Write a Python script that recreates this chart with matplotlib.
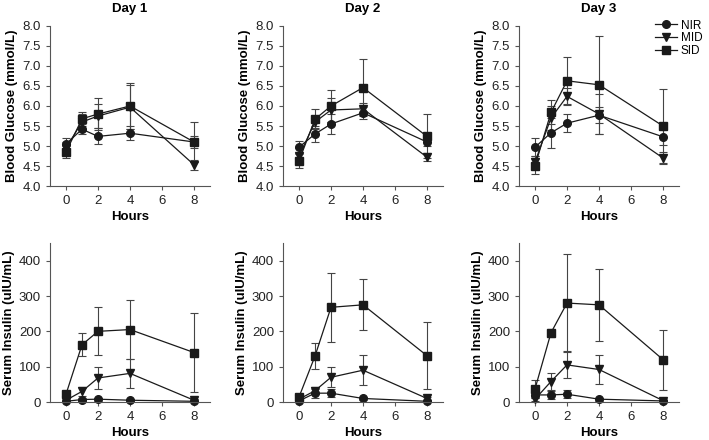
import numpy as np
import matplotlib.pyplot as plt
from matplotlib.lines import Line2D

plt.rcParams['font.family'] = ['Liberation Sans', 'DejaVu Sans']

hours = [0, 1, 2, 4, 8]
groups = ['NIR', 'MID', 'SID']
markers = ['o', 'v', 's']
days = ['Day 1', 'Day 2', 'Day 3']

# blood glucose (mmol/L), mean and error, per day per group
glu_d1 = {'NIR': [5.05, 5.42, 5.24, 5.32, 5.10], 'MID': [4.95, 5.60, 5.75, 5.97, 4.53], 'SID': [4.85, 5.68, 5.80, 6.00, 5.10]}
glu_d1_err = {'NIR': [0.15, 0.12, 0.20, 0.17, 0.15], 'MID': [0.15, 0.20, 0.30, 0.55, 0.12], 'SID': [0.15, 0.18, 0.40, 0.57, 0.50]}
glu_d2 = {'NIR': [4.97, 5.30, 5.55, 5.83, 5.10], 'MID': [4.75, 5.60, 5.90, 5.93, 4.72], 'SID': [4.63, 5.67, 6.00, 6.46, 5.24]}
glu_d2_err = {'NIR': [0.15, 0.20, 0.25, 0.15, 0.10], 'MID': [0.20, 0.15, 0.30, 0.15, 0.10], 'SID': [0.18, 0.25, 0.40, 0.72, 0.55]}
glu_d3 = {'NIR': [4.97, 5.33, 5.57, 5.77, 5.23], 'MID': [4.60, 5.70, 6.24, 5.80, 4.70], 'SID': [4.50, 5.84, 6.63, 6.53, 5.50]}
glu_d3_err = {'NIR': [0.22, 0.38, 0.22, 0.20, 0.20], 'MID': [0.15, 0.30, 0.20, 0.50, 0.15], 'SID': [0.20, 0.30, 0.60, 1.23, 0.93]}

# serum insulin (uIU/mL)
ins_d1 = {'NIR': [2, 7, 8, 5, 2], 'MID': [5, 30, 68, 81, 5], 'SID': [22, 162, 200, 205, 140]}
ins_d1_err = {'NIR': [2, 4, 4, 3, 2], 'MID': [3, 13, 30, 42, 3], 'SID': [8, 33, 68, 84, 112]}
ins_d2 = {'NIR': [3, 25, 25, 10, 2], 'MID': [8, 32, 70, 90, 10], 'SID': [14, 130, 268, 275, 131]}
ins_d2_err = {'NIR': [2, 13, 12, 4, 2], 'MID': [4, 10, 28, 43, 5], 'SID': [6, 36, 97, 72, 95]}
ins_d3 = {'NIR': [20, 20, 22, 8, 3], 'MID': [8, 58, 105, 92, 4], 'SID': [37, 196, 280, 275, 120]}
ins_d3_err = {'NIR': [8, 12, 12, 4, 2], 'MID': [6, 24, 38, 42, 3], 'SID': [25, 12, 138, 102, 85]}

glu = [(glu_d1, glu_d1_err), (glu_d2, glu_d2_err), (glu_d3, glu_d3_err)]
ins = [(ins_d1, ins_d1_err), (ins_d2, ins_d2_err), (ins_d3, ins_d3_err)]

W, H = 709, 440
fig = plt.figure(figsize=(W / 100, H / 100), dpi=100)
lefts = [50, 283, 519]
pw = 160
ink = '#1a1a1a'


def panel(left, top, bottom):
    return fig.add_axes([left / W, 1 - bottom / H, pw / W, (bottom - top) / H])


def draw(ax, data, err):
    for g, m in zip(groups, markers):
        ax.errorbar(hours, data[g], yerr=err[g], color=ink, ecolor='#444444',
                    marker=m, markersize=5.5, lw=0.9, elinewidth=0.8, capsize=3,
                    capthick=0.8, clip_on=False)
    for s in ['top', 'right']:
        ax.spines[s].set_visible(False)
    for s in ['left', 'bottom']:
        ax.spines[s].set_color('#555555')
        ax.spines[s].set_linewidth(0.8)
    ax.set_xlim(-1, 9)
    ax.set_xticks([0, 2, 4, 6, 8])
    ax.tick_params(direction='out', length=3, width=0.8, color='#555555',
                   labelcolor='#222222', labelsize=9.5, pad=3.5)
    ax.set_xlabel('Hours', fontsize=9.5, fontweight='bold', labelpad=3)


for i in range(3):
    ax = panel(lefts[i], 26, 186)
    draw(ax, *glu[i])
    ax.set_ylim(4, 8)
    ax.set_yticks(np.arange(4, 8.01, 0.5))
    ax.set_yticklabels(['%.1f' % v for v in np.arange(4, 8.01, 0.5)])
    ax.set_ylabel('Blood Glucose (mmol/L)', fontsize=9.5, fontweight='bold', labelpad=3)
    ax.set_title(days[i], fontsize=9.5, fontweight='bold', pad=10)
    if i == 2:
        handles = [Line2D([], [], color=ink, marker=m, markersize=5.5, lw=0.9) for m in markers]
        ax.legend(handles, groups, loc='upper left', bbox_to_anchor=(0.82, 1.07), frameon=False,
                  fontsize=8.5, handlelength=1.9, handletextpad=0.3, labelspacing=0.05,
                  borderaxespad=0)

    ax = panel(lefts[i], 243, 402)
    draw(ax, *ins[i])
    ax.set_ylim(0, 450)
    ax.set_yticks([0, 100, 200, 300, 400])
    ax.set_ylabel('Serum Insulin (uIU/mL)', fontsize=9.5, fontweight='bold', labelpad=3)

fig.savefig('out.png', dpi=100)
